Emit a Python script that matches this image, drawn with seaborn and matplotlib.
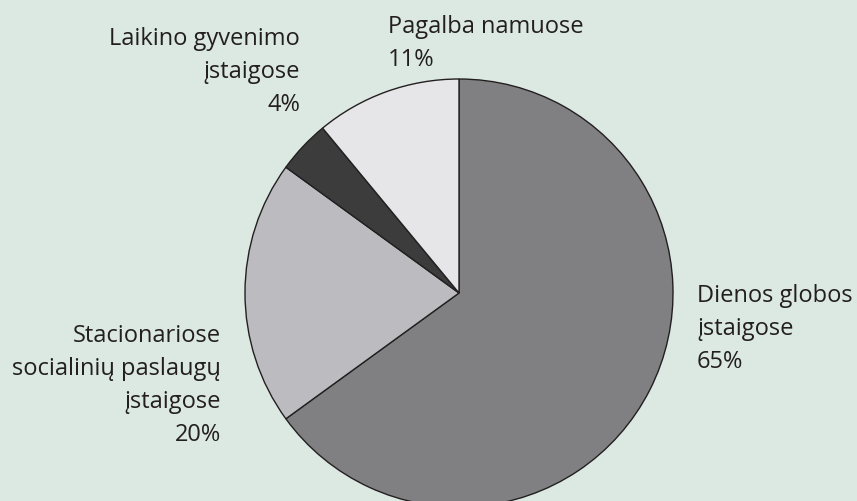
import matplotlib
matplotlib.use("Agg")
import matplotlib.pyplot as plt
import seaborn as sns

categories = ["Dienos globos\nįstaigose", "Stacionariose\nsocialinių paslaugų\nįstaigose",
              "Laikino gyvenimo\nįstaigose", "Pagalba namuose"]
values = [65, 20, 4, 11]
colors = ["#808083", "#bcbcc0", "#3c3c3c", "#e6e6e8"]

bg = "#dce9e2"
txt = "#231f20"

sns.set_theme(style="white")
plt.rcParams['font.family'] = ['Open Sans', 'DejaVu Sans']

fig = plt.figure(figsize=(8.57, 5.02), dpi=100, facecolor=bg)
ax = fig.add_axes([0, 0, 1, 1])
ax.set_facecolor(bg)

ax.pie(values, colors=colors, startangle=90, counterclock=False,
       center=(459, 502 - 294), radius=214, frame=True,
       wedgeprops=dict(edgecolor=txt, linewidth=1.0))
ax.set_xlim(0, 857)
ax.set_ylim(0, 502)
ax.set_aspect("equal")
ax.axis("off")

fs = 17
ls = 1.5
labels = [f"{c}\n{v}%" for c, v in zip(categories, values)]
ax.text(697, 502 - 284, labels[0], ha="left", va="top", fontsize=fs, color=txt, linespacing=ls)
ax.text(221, 502 - 324, labels[1], ha="right", va="top", fontsize=fs, color=txt, linespacing=ls)
ax.text(300, 502 - 27, labels[2], ha="right", va="top", fontsize=fs, color=txt, linespacing=ls)
ax.text(388, 502 - 15, labels[3], ha="left", va="top", fontsize=fs, color=txt, linespacing=ls)

fig.savefig("out.png", dpi=100, facecolor=bg)
